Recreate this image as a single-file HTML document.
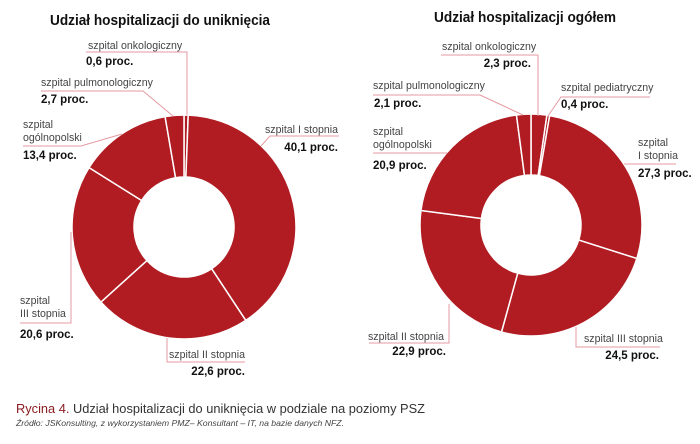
<!DOCTYPE html>
<html><head><meta charset="utf-8"><style>
body{margin:0;background:#fff;width:700px;height:444px;overflow:hidden}
svg{display:block;font-family:"Liberation Sans",sans-serif}
.l{font-size:10.6px;fill:#444}
.v{font-size:11.5px;font-weight:bold;fill:#111}
.ld{stroke:#e59aa2;stroke-width:1;fill:none}
.t{font-size:14.5px;font-weight:bold;fill:#111}
</style></head><body>
<svg id="c" width="700" height="444">
<text class="t" x="50" y="25" textLength="220" lengthAdjust="spacingAndGlyphs">Udział hospitalizacji do uniknięcia</text>
<text class="t" x="434" y="22" textLength="182" lengthAdjust="spacingAndGlyphs">Udział hospitalizacji ogółem</text>
<g id="d1"></g>
<g id="d2"></g>
<g>
<path class="ld" d="M86 52H187V115"/><text class="l" x="88" y="49">szpital onkologiczny</text><text class="v" x="86" y="65">0,6 proc.</text>
<path class="ld" d="M41 91H143L173 116"/><text class="l" x="41" y="86">szpital pulmonologiczny</text><text class="v" x="41" y="103">2,7 proc.</text>
<path class="ld" d="M23 146H81L122 134"/><text class="l" x="23" y="128">szpital</text><text class="l" x="23" y="141">ogólnopolski</text><text class="v" x="23" y="159">13,4 proc.</text>
<path class="ld" d="M339 136H270L261 146"/><text class="l" x="265" y="133">szpital I stopnia</text><text class="v" x="338" y="151" text-anchor="end">40,1 proc.</text>
<path class="ld" d="M20 323H71V232"/><text class="l" x="20" y="304">szpital</text><text class="l" x="20" y="317">III stopnia</text><text class="v" x="20" y="338">20,6 proc.</text>
<path class="ld" d="M167 338V362H245"/><text class="l" x="169" y="358">szpital II stopnia</text><text class="v" x="245" y="375" text-anchor="end">22,6 proc.</text>
</g>
<g>
<path class="ld" d="M441 55H538V116"/><text class="l" x="442" y="50">szpital onkologiczny</text><text class="v" x="531" y="67" text-anchor="end">2,3 proc.</text>
<path class="ld" d="M373 95H480L523 115"/><text class="l" x="373" y="89">szpital pulmonologiczny</text><text class="v" x="374" y="107">2,1 proc.</text>
<path class="ld" d="M650 97H561L548 116"/><text class="l" x="561" y="91">szpital pediatryczny</text><text class="v" x="561" y="108">0,4 proc.</text>
<path class="ld" d="M373 153H447"/><text class="l" x="373" y="135">szpital</text><text class="l" x="373" y="148">ogólnopolski</text><text class="v" x="373" y="169">20,9 proc.</text>
<path class="ld" d="M624 164H676"/><text class="l" x="638" y="146">szpital</text><text class="l" x="638" y="159">I stopnia</text><text class="v" x="638" y="177">27,3 proc.</text>
<path class="ld" d="M576 327V347H660"/><text class="l" x="584" y="342">szpital III stopnia</text><text class="v" x="659" y="359" text-anchor="end">24,5 proc.</text>
<path class="ld" d="M449 304V343H369"/><text class="l" x="368" y="340">szpital II stopnia</text><text class="v" x="446" y="355" text-anchor="end">22,9 proc.</text>
</g>
<text x="16" y="413" textLength="409" lengthAdjust="spacingAndGlyphs" style="font-size:13px;fill:#333"><tspan style="fill:#8b1a1f">Rycina 4.</tspan> Udział hospitalizacji do uniknięcia w podziale na poziomy PSZ</text>
<text x="16" y="426" textLength="328" lengthAdjust="spacingAndGlyphs" style="font-size:8.5px;font-style:italic;fill:#444">Źródło: JSKonsulting, z wykorzystaniem PMZ– Konsultant – IT, na bazie danych NFZ.</text>
</svg>
<script>
const leftCats=["onkologiczny","I stopnia","II stopnia","III stopnia","ogólnopolski","pulmonologiczny"];
const leftVals=[0.6,40.1,22.6,20.6,13.4,2.7];
const rightCats=["onkologiczny","pediatryczny","I stopnia","III stopnia","II stopnia","ogólnopolski","pulmonologiczny"];
const rightVals=[2.3,0.4,27.3,24.5,22.9,20.9,2.1];
function donut(g,cats,vals,cx,cy,R,r){
  const tot=vals.reduce((a,b)=>a+b,0);let a0=0;
  const pt=(a,rad)=>[cx+rad*Math.sin(a),cy-rad*Math.cos(a)];
  vals.forEach((v,i)=>{
    const a1=a0+v/tot*2*Math.PI;const lg=(a1-a0)>Math.PI?1:0;
    const p1=pt(a0,R),p2=pt(a1,R),p3=pt(a1,r),p4=pt(a0,r);
    const p=document.createElementNS("http://www.w3.org/2000/svg","path");
    p.setAttribute("d",`M${p1}A${R} ${R} 0 ${lg} 1 ${p2}L${p3}A${r} ${r} 0 ${lg} 0 ${p4}Z`);
    p.setAttribute("fill","#b01c22");p.setAttribute("stroke","#fff");p.setAttribute("stroke-width","1.5");
    
    
    g.appendChild(p);a0=a1;
  });
}
donut(document.getElementById("d1"),leftCats,leftVals,184,227,112,50);
donut(document.getElementById("d2"),rightCats,rightVals,531,225,111,50);
</script>
</body></html>
